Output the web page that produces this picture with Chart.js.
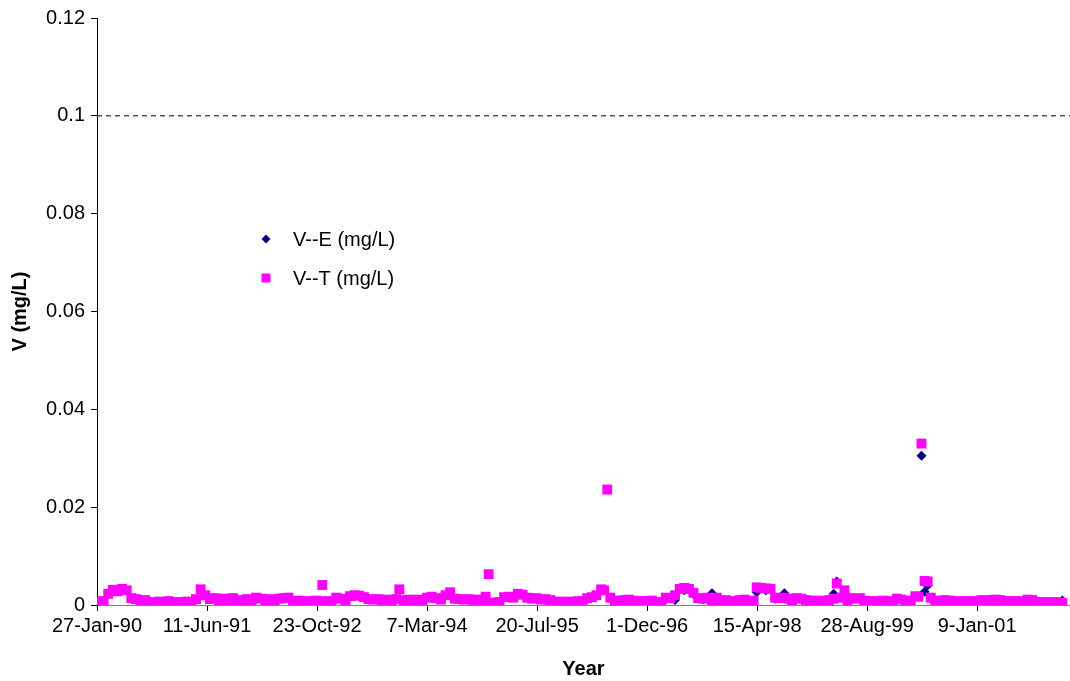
<!DOCTYPE html>
<html>
<head>
<meta charset="utf-8">
<script src="https://cdn.jsdelivr.net/npm/chart.js@4.4.1/dist/chart.umd.min.js"></script>
<style>
  html, body { margin: 0; padding: 0; background: #fff; }
  canvas { display: block; }
</style>
</head>
<body>
<canvas id="vChart" width="1070" height="681"></canvas>
<script>
// day 0 of the x axis (Excel date axis, ticks every 500 days)
const startDate = '1990-01-27';
const xTickDates = ['1990-01-27', '1991-06-11', '1992-10-23', '1994-03-07', '1995-07-20',
                    '1996-12-01', '1998-04-15', '1999-08-28', '2001-01-09'];
const xMaxDays = 4422;
const yTicks = [0, 0.02, 0.04, 0.06, 0.08, 0.1, 0.12];
const limitValue = 0.1;
const seriesNames = ['V--E (mg/L)', 'V--T (mg/L)'];

// V--T (total)
const tDates = [
  '1990-01-29', '1990-02-26', '1990-03-19', '1990-04-09', '1990-04-30', '1990-05-21', '1990-06-11', '1990-07-02',
  '1990-07-23', '1990-08-13', '1990-09-03', '1990-09-24', '1990-10-15', '1990-11-05', '1990-11-26', '1990-12-17',
  '1991-01-28', '1991-02-18', '1991-03-11', '1991-04-01', '1991-04-22', '1991-05-13', '1991-06-03', '1991-06-24',
  '1991-07-15', '1991-08-05', '1991-08-26', '1991-09-16', '1991-10-07', '1991-10-28', '1991-11-18', '1991-12-09',
  '1991-12-30', '1992-01-20', '1992-02-10', '1992-03-02', '1992-03-23', '1992-04-13', '1992-05-04', '1992-05-25',
  '1992-06-15', '1992-07-06', '1992-07-27', '1992-08-17', '1992-09-07', '1992-09-28', '1992-10-19', '1992-11-02',
  '1992-11-16', '1992-12-07', '1992-12-28', '1993-01-18', '1993-02-08', '1993-03-01', '1993-03-22', '1993-04-12',
  '1993-05-03', '1993-05-24', '1993-06-14', '1993-07-05', '1993-07-26', '1993-08-16', '1993-09-06', '1993-09-27',
  '1993-10-18', '1993-11-01', '1993-11-22', '1993-12-13', '1994-01-03', '1994-01-24', '1994-02-14', '1994-03-07',
  '1994-03-28', '1994-04-18', '1994-05-09', '1994-05-30', '1994-06-20', '1994-07-11', '1994-08-01', '1994-08-22',
  '1994-09-12', '1994-10-03', '1994-10-24', '1994-11-07', '1994-11-28', '1994-12-12', '1994-12-19', '1995-01-09',
  '1995-01-30', '1995-02-20', '1995-03-13', '1995-04-03', '1995-04-24', '1995-05-15', '1995-06-05', '1995-06-26',
  '1995-07-17', '1995-08-07', '1995-08-28', '1995-09-18', '1995-10-09', '1995-10-30', '1995-11-20', '1995-12-11',
  '1996-01-01', '1996-01-22', '1996-02-12', '1996-03-04', '1996-03-25', '1996-04-15', '1996-05-06', '1996-05-20',
  '1996-06-03', '1996-06-17', '1996-07-08', '1996-07-29', '1996-08-19', '1996-09-09', '1996-09-30', '1996-10-21',
  '1996-11-11', '1996-12-02', '1996-12-23', '1997-01-13', '1997-02-03', '1997-02-24', '1997-03-17', '1997-04-07',
  '1997-04-28', '1997-05-19', '1997-06-09', '1997-06-30', '1997-07-21', '1997-08-11', '1997-09-01', '1997-09-22',
  '1997-10-13', '1997-11-03', '1997-11-24', '1997-12-15', '1998-01-05', '1998-01-26', '1998-02-16', '1998-03-09',
  '1998-03-30', '1998-04-13', '1998-05-04', '1998-05-25', '1998-06-15', '1998-07-06', '1998-07-27', '1998-08-17',
  '1998-09-07', '1998-09-21', '1998-10-12', '1998-11-02', '1998-11-23', '1998-12-14', '1999-01-04', '1999-01-25',
  '1999-02-15', '1999-03-08', '1999-03-29', '1999-04-12', '1999-05-03', '1999-05-17', '1999-05-31', '1999-06-14',
  '1999-07-05', '1999-07-26', '1999-08-16', '1999-09-06', '1999-09-27', '1999-10-18', '1999-11-08', '1999-11-29',
  '1999-12-20', '2000-01-10', '2000-01-31', '2000-02-21', '2000-03-13', '2000-04-03', '2000-04-17', '2000-05-01',
  '2000-05-15', '2000-05-29', '2000-06-12', '2000-07-03', '2000-07-24', '2000-08-14', '2000-09-04', '2000-09-25',
  '2000-10-16', '2000-11-06', '2000-11-27', '2000-12-18', '2001-01-08', '2001-01-29', '2001-02-19', '2001-03-12',
  '2001-04-02', '2001-04-23', '2001-05-14', '2001-06-04', '2001-06-25', '2001-07-16', '2001-08-06', '2001-08-27',
  '2001-09-17', '2001-10-08', '2001-10-29', '2001-11-19', '2001-12-10', '2001-12-31', '2002-01-21', '2002-01-31'
];
const tValues = [
  0.0007, 0.0008, 0.0023, 0.0031, 0.0028, 0.0033, 0.0030, 0.0014,
  0.0012, 0.0008, 0.0010, 0.0006, 0.0004, 0.0007, 0.0005, 0.0008,
  0.0006, 0.0005, 0.0007, 0.0006, 0.0012, 0.0032, 0.0020, 0.0012,
  0.0014, 0.0010, 0.0013, 0.0008, 0.0014, 0.0004, 0.0010, 0.0012,
  0.0009, 0.0015, 0.0013, 0.0010, 0.0012, 0.0009, 0.0013, 0.0014,
  0.0015, 0.0008, 0.0009, 0.0007, 0.0008, 0.0006, 0.0009, 0.0007,
  0.0041, 0.0008, 0.0006, 0.0015, 0.0013, 0.0005, 0.0018, 0.0020,
  0.0019, 0.0016, 0.0012, 0.0011, 0.0012, 0.0010, 0.0011, 0.0009,
  0.0012, 0.0032, 0.0010, 0.0011, 0.0009, 0.0011, 0.0010, 0.0015,
  0.0017, 0.0014, 0.0011, 0.0020, 0.0026, 0.0013, 0.0012, 0.0011,
  0.0012, 0.0010, 0.0011, 0.0009, 0.0017, 0.0063, 0.0004, 0.0005,
  0.0006, 0.0016, 0.0017, 0.0015, 0.0023, 0.0021, 0.0015, 0.0013,
  0.0014, 0.0011, 0.0012, 0.0010, 0.0005, 0.0007, 0.0006, 0.0007,
  0.0006, 0.0008, 0.0007, 0.0014, 0.0016, 0.0020, 0.0032, 0.0030,
  0.0236, 0.0015, 0.0009, 0.0004, 0.0010, 0.0011, 0.0009, 0.0008,
  0.0007, 0.0008, 0.0009, 0.0004, 0.0006, 0.0015, 0.0014, 0.0020,
  0.0033, 0.0035, 0.0033, 0.0025, 0.0014, 0.0013, 0.0015, 0.0003,
  0.0015, 0.0009, 0.0010, 0.0008, 0.0003, 0.0010, 0.0011, 0.0008,
  0.0009, 0.0036, 0.0035, 0.0034, 0.0033, 0.0015, 0.0014, 0.0015,
  0.0013, 0.0003, 0.0014, 0.0013, 0.0010, 0.0009, 0.0008, 0.0009,
  0.0007, 0.0010, 0.0013, 0.0044, 0.0015, 0.0030, 0.0003, 0.0014,
  0.0013, 0.0014, 0.0009, 0.0008, 0.0007, 0.0008, 0.0009, 0.0006,
  0.0008, 0.0013, 0.0011, 0.0004, 0.0009, 0.0018, 0.0017, 0.0330,
  0.0049, 0.0048, 0.0015, 0.0009, 0.0008, 0.0010, 0.0009, 0.0008,
  0.0006, 0.0008, 0.0007, 0.0008, 0.0006, 0.0010, 0.0009, 0.0010,
  0.0011, 0.0010, 0.0008, 0.0007, 0.0008, 0.0006, 0.0008, 0.0011,
  0.0010, 0.0006, 0.0005, 0.0006, 0.0005, 0.0006, 0.0005, 0.0004
];

// V--E (extractable) - only sampled from 1997 on
const eDates = [
  '1997-01-13', '1997-02-24', '1997-04-07', '1997-05-19', '1997-06-30', '1997-08-11', '1997-09-22', '1997-11-03',
  '1997-12-15', '1998-01-26', '1998-03-09', '1998-04-13', '1998-05-25', '1998-07-06', '1998-08-17', '1998-09-21',
  '1998-11-02', '1998-12-14', '1999-01-25', '1999-03-08', '1999-03-29', '1999-04-12', '1999-05-17', '1999-06-14',
  '1999-07-26', '1999-09-06', '1999-10-18', '1999-11-29', '2000-01-10', '2000-02-21', '2000-04-03', '2000-05-01',
  '2000-05-15', '2000-05-29', '2000-06-12', '2000-07-24', '2000-09-04', '2000-10-16', '2000-11-27', '2001-01-08',
  '2001-02-19', '2001-04-02', '2001-05-14', '2001-06-25', '2001-08-06', '2001-09-17', '2001-10-29', '2001-12-10',
  '2002-01-31'
];
const eValues = [
  0.0004, 0.0012, 0.0010, 0.0030, 0.0022, 0.0012, 0.0024, 0.0008,
  0.0007, 0.0009, 0.0007, 0.0026, 0.0030, 0.0013, 0.0024, 0.0003,
  0.0011, 0.0008, 0.0008, 0.0009, 0.0023, 0.0048, 0.0026, 0.0012,
  0.0012, 0.0007, 0.0007, 0.0005, 0.0011, 0.0004, 0.0016, 0.0305,
  0.0027, 0.0040, 0.0013, 0.0007, 0.0008, 0.0005, 0.0006, 0.0005,
  0.0008, 0.0010, 0.0007, 0.0007, 0.0007, 0.0009, 0.0004, 0.0004,
  0.0009
];

const DAY = 86400000;
const base = Date.parse(startDate + 'T00:00:00Z');
const months = ['Jan', 'Feb', 'Mar', 'Apr', 'May', 'Jun', 'Jul', 'Aug', 'Sep', 'Oct', 'Nov', 'Dec'];

function toDays(s) {
    return Math.round((Date.parse(s + 'T00:00:00Z') - base) / DAY);
}
function dayLabel(d) {
    const dt = new Date(base + d * DAY);
    const yy = String(dt.getUTCFullYear() % 100).padStart(2, '0');
    return dt.getUTCDate() + '-' + months[dt.getUTCMonth()] + '-' + yy;
}
function points(dates, values) {
    return dates.map((d, i) => ({x: toDays(d), y: values[i]}));
}

const FONT = '"Liberation Sans", Arial, sans-serif';
Chart.defaults.font.family = FONT;
Chart.defaults.font.size = 20;
Chart.defaults.color = '#000';

// legend sits inside the plot area in the original
const insideLegend = {
    id: 'insideLegend',
    afterDraw(chart) {
        const {ctx, chartArea} = chart;
        const x = chartArea.left + 169;
        ctx.save();
        ctx.font = '20px ' + FONT;
        ctx.textBaseline = 'middle';
        seriesNames.forEach((name, i) => {
            const y = chartArea.top + 221 + i * 39;
            const ds = chart.data.datasets[i];
            ctx.fillStyle = ds.backgroundColor;
            ctx.beginPath();
            if (ds.pointStyle === 'rectRot') {
                ctx.moveTo(x, y - 4.5);
                ctx.lineTo(x + 4.5, y);
                ctx.lineTo(x, y + 4.5);
                ctx.lineTo(x - 4.5, y);
                ctx.closePath();
            } else {
                ctx.rect(x - 4.5, y - 4.5, 9, 9);
            }
            ctx.fill();
            ctx.fillStyle = '#000';
            ctx.fillText(name, x + 27, y + 1);
        });
        ctx.restore();
    }
};

new Chart(document.getElementById('vChart'), {
    type: 'scatter',
    data: {
        datasets: [
            {
                label: seriesNames[0],
                data: points(eDates, eValues),
                pointStyle: 'rectRot',
                pointRadius: 5,
                borderWidth: 0,
                backgroundColor: '#000080',
                borderColor: '#000080',
                order: 1
            },
            {
                label: seriesNames[1],
                data: points(tDates, tValues),
                pointStyle: 'rect',
                pointRadius: 7,
                borderWidth: 0,
                backgroundColor: '#FF00FF',
                borderColor: '#FF00FF',
                order: 0
            },
            {
                type: 'line',
                label: 'limit',
                data: [{x: 0, y: limitValue}, {x: xMaxDays, y: limitValue}],
                borderColor: '#000',
                borderWidth: 1,
                borderDash: [5, 4],
                pointRadius: 0,
                fill: false,
                order: 2
            }
        ]
    },
    options: {
        responsive: false,
        animation: false,
        // plot runs right up to the edge of the picture, so no padding for the markers
        layout: {autoPadding: false, padding: {top: 10, right: 0, left: 0, bottom: 0}},
        plugins: {
            legend: {display: false},
            tooltip: {enabled: false}
        },
        scales: {
            x: {
                type: 'linear',
                min: 0,
                max: xMaxDays,
                afterFit: (scale) => { scale.height = 76; },
                afterBuildTicks: (scale) => { scale.ticks = xTickDates.map(d => ({value: toDays(d)})); },
                ticks: {
                    maxRotation: 0,
                    autoSkip: false,
                    padding: 3,
                    callback: (v) => dayLabel(v)
                },
                grid: {drawOnChartArea: false, tickLength: 6, color: '#000'},
                border: {color: '#808080', width: 1},
                title: {
                    display: true,
                    text: 'Year',
                    font: {weight: 'bold', size: 20},
                    padding: {top: 1, bottom: 0}
                }
            },
            y: {
                min: 0,
                max: 0.12,
                afterFit: (scale) => { scale.width = 97; },
                afterBuildTicks: (scale) => { scale.ticks = yTicks.map(v => ({value: v})); },
                ticks: {
                    padding: 6,
                    callback: (v) => String(+v.toFixed(2))
                },
                grid: {drawOnChartArea: false, tickLength: 6, color: '#000'},
                border: {color: '#000', width: 1},
                title: {
                    display: true,
                    text: 'V (mg/L)',
                    font: {weight: 'bold', size: 20},
                    padding: {top: 8, bottom: 0}
                }
            }
        }
    },
    plugins: [insideLegend]
});
</script>
</body>
</html>
